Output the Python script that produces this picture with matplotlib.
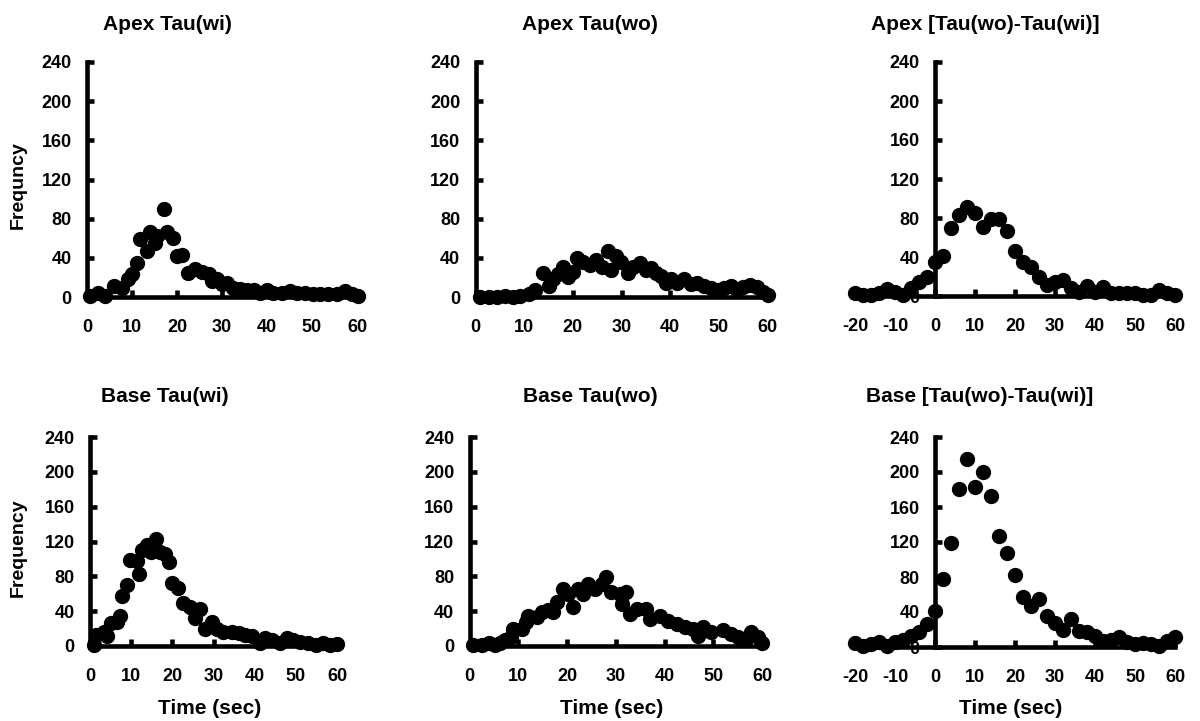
import numpy as np
import matplotlib
matplotlib.use('Agg')
import matplotlib.pyplot as plt

plt.rcParams['font.family'] = ['Liberation Sans', 'DejaVu Sans']
plt.rcParams['font.weight'] = 'bold'
plt.rcParams['axes.unicode_minus'] = False

# ---- data (time in sec, frequency) ----
apex_wi_x = [0.7, 2.5, 4.0, 5.9, 7.7, 9.2, 9.9, 11.0, 11.8, 13.3, 14.0, 15.1, 15.6, 17.0, 17.8,
             19.2, 19.9, 21.0, 22.5, 24.0, 25.5, 27.0, 27.7, 28.8, 29.9, 31.0, 32.5, 34.0, 35.5,
             37.0, 38.4, 39.9, 41.4, 43.3, 45.1, 46.6, 48.4, 50.3, 51.8, 53.6, 55.5, 57.3, 58.8, 60.3]
apex_wi_y = [1, 4, 1, 11, 9, 18, 23, 35, 59, 47, 66, 55, 62, 90, 66,
             60, 42, 43, 25, 29, 26, 23, 16, 18, 13, 14, 9, 8, 7,
             7, 4, 7, 4, 4, 6, 4, 4, 3, 3, 3, 3, 6, 3, 1]

apex_wo_x = [1.0, 2.7, 4.4, 6.1, 7.8, 9.2, 10.9, 12.2, 13.9, 15.0, 16.0, 17.0, 18.0, 19.0, 20.1,
             20.8, 22.1, 23.5, 24.8, 25.9, 27.2, 27.9, 28.9, 29.9, 31.3, 32.3, 33.7, 35.0, 36.1,
             37.1, 38.1, 39.1, 40.1, 41.5, 42.9, 44.2, 45.6, 46.9, 48.3, 49.7, 51.0, 52.4, 53.7,
             55.0, 56.5, 57.8, 59.0, 60.0]
apex_wo_y = [0, 0, 0, 1, 0, 1, 3, 7, 25, 11, 18, 23, 31, 20, 26,
             40, 36, 33, 38, 31, 47, 28, 42, 36, 25, 31, 35, 28, 30,
             25, 21, 14, 18, 14, 18, 13, 14, 11, 9, 7, 9, 11, 7,
             10, 12, 10, 5, 2]

apex_diff_x = [-20, -18, -16, -14, -12, -10, -8, -6, -4, -2, 0, 2, 4, 6, 8, 10, 12, 14, 16, 18,
               20, 22, 24, 26, 28, 30, 32, 34, 36, 38, 40, 42, 44, 46, 48, 50, 52, 54, 56, 58, 60]
apex_diff_y = [3, 1, 1, 3, 7, 4, 1, 8, 14, 20, 35, 41, 70, 83, 91, 85, 71, 79, 79, 67,
               46, 35, 30, 20, 11, 14, 16, 8, 4, 10, 4, 9, 3, 3, 3, 3, 1, 1, 6, 3, 1]

base_wi_x = [0.9, 1.4, 3.4, 4.2, 5.0, 6.6, 7.2, 7.8, 9.0, 9.7, 11.3, 11.8, 12.7, 13.9, 14.7,
             16.1, 17.1, 18.3, 19.1, 19.8, 21.3, 22.7, 24.4, 25.6, 26.8, 28.0, 29.6, 30.8, 32.4,
             34.4, 36.1, 37.7, 39.3, 41.3, 42.5, 44.1, 46.1, 47.8, 49.4, 51.0, 53.0, 55.0, 56.6,
             58.3, 59.9]
base_wi_y = [1, 13, 16, 11, 26, 28, 34, 57, 70, 99, 98, 83, 110, 116, 108,
             123, 108, 106, 97, 72, 67, 49, 45, 32, 43, 20, 28, 20, 16,
             16, 15, 13, 11, 3, 9, 7, 3, 9, 7, 5, 3, 1, 3,
             1, 2]

base_wo_x = [0.8, 2.5, 4.1, 5.2, 6.3, 7.3, 8.6, 9.0, 10.7, 11.6, 12.0, 13.8, 14.8, 16.1, 17.2,
             17.9, 19.2, 20.2, 21.3, 22.3, 23.3, 24.3, 25.7, 27.1, 28.1, 29.1, 30.8, 31.2, 32.1,
             32.9, 34.3, 36.2, 37.0, 39.0, 40.7, 42.5, 44.2, 45.9, 46.9, 47.9, 49.6, 51.9, 53.7,
             55.1, 56.8, 57.8, 59.2, 60.1]
base_wo_y = [1, 1, 4, 1, 3, 7, 10, 20, 20, 27, 35, 33, 39, 41, 39,
             50, 66, 60, 45, 66, 60, 71, 66, 71, 79, 62, 60, 48, 62,
             37, 43, 43, 31, 35, 29, 25, 22, 20, 12, 22, 16, 18, 14,
             10, 8, 16, 10, 4]

base_diff_x = [-20, -18, -16, -14, -12, -10, -8, -6, -4, -2, 0, 2, 4, 6, 8, 10, 12, 14, 16, 18,
               20, 22, 24, 26, 28, 30, 32, 34, 36, 38, 40, 42, 44, 46, 48, 50, 52, 54, 56, 58, 60]
base_diff_y = [5, 1, 3, 6, 1, 6, 8, 13, 17, 26, 41, 78, 119, 181, 215, 183, 200, 173, 127, 108,
               82, 57, 47, 55, 35, 27, 20, 32, 18, 17, 13, 7, 8, 12, 6, 3, 5, 4, 1, 7, 11]

titles = ['Apex Tau(wi)', 'Apex Tau(wo)', 'Apex [Tau(wo)-Tau(wi)]',
          'Base Tau(wi)', 'Base Tau(wo)', 'Base [Tau(wo)-Tau(wi)]']

W, H = 1200, 721
fig = plt.figure(figsize=(12, 7.21), dpi=100)

# pixel layout: x at xmin, x at xmax, y pixel of 0, y pixel of 240
boxes = [(87, 357, 297, 62), (475.5, 767.5, 297, 62), (855, 1175, 296, 62),
         (90, 337, 646, 437), (469.5, 762, 646, 437), (855, 1175, 647, 437)]
title_pos = [(167, 25), (590, 25), (985, 25), (165, 397), (590, 397), (980, 397)]
series = [(apex_wi_x, apex_wi_y), (apex_wo_x, apex_wo_y), (apex_diff_x, apex_diff_y),
          (base_wi_x, base_wi_y), (base_wo_x, base_wo_y), (base_diff_x, base_diff_y)]

for i, ((x, y), (x0, x1, y0, y1)) in enumerate(zip(series, boxes)):
    ax = fig.add_axes([x0 / W, (H - y0) / H, (x1 - x0) / W, (y0 - y1) / H])
    ax.set_facecolor('none')
    diff = (i % 3 == 2)
    ax.plot(x, y, 'o', color='black', ms=10, clip_on=False, zorder=3)
    if diff:
        ax.set_xlim(-20, 60)
        ax.set_xticks(range(-20, 61, 10))
        ax.spines['left'].set_position(('data', 0))
    else:
        ax.set_xlim(0, 60)
        ax.set_xticks(range(0, 61, 10))
    ax.set_ylim(0, 240)
    ax.set_yticks(range(0, 241, 40))
    for s in ['top', 'right']:
        ax.spines[s].set_visible(False)
    for s in ['left', 'bottom']:
        ax.spines[s].set_linewidth(3.3)
    ax.tick_params(direction='in', length=5, width=3.3, labelsize=13)
    ax.tick_params(axis='x', pad=16)
    ax.tick_params(axis='y', pad=11)
    tx, ty = title_pos[i]
    fig.text(tx / W, 1 - ty / H, titles[i], ha='center', va='center', fontsize=15)
    if i >= 3:
        fig.text(((x0 + x1) / 2 - 4) / W, 1 - 708 / H, 'Time (sec)', ha='center', va='center', fontsize=15)

fig.text(18 / W, 1 - 185 / H, 'Frequncy', rotation=90, ha='center', va='center', fontsize=14)
fig.text(18 / W, 1 - 548 / H, 'Frequency', rotation=90, ha='center', va='center', fontsize=14)

fig.savefig('out.png', dpi=100)
